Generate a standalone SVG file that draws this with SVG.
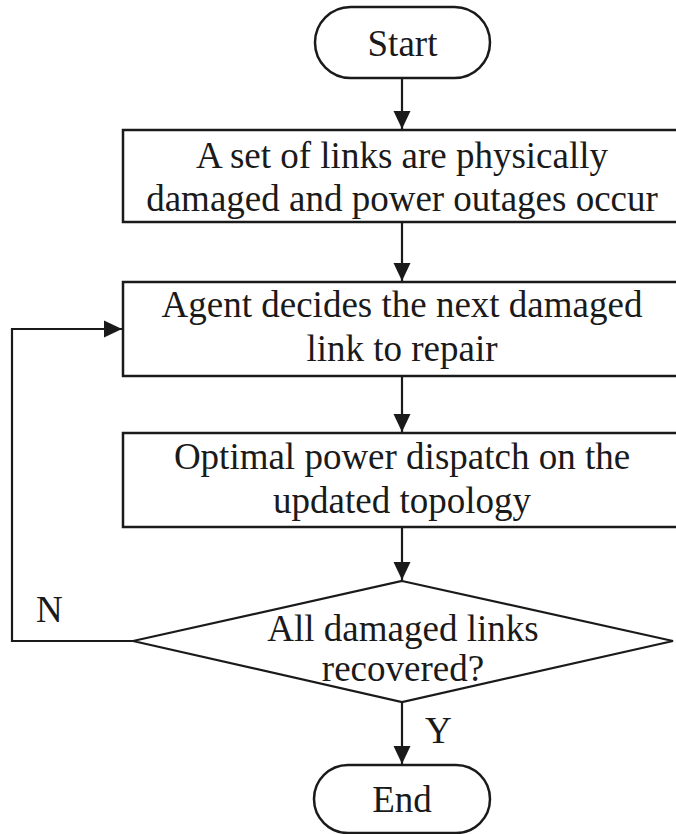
<svg xmlns="http://www.w3.org/2000/svg" width="676" height="834" viewBox="0 0 676 834">
  <style>
    .shape { fill: #ffffff; stroke: #1a1a1a; stroke-width: 2.5; }
    .diamond { fill: #ffffff; stroke: #1a1a1a; stroke-width: 2.2; }
    .label { font-family: "Liberation Serif", "Times New Roman", serif; font-size: 37px; fill: #1a1a1a; text-anchor: middle; }
    .tag { font-family: "Liberation Serif", "Times New Roman", serif; font-size: 37px; fill: #1a1a1a; }
    .wire { fill: none; stroke: #1a1a1a; stroke-width: 2.2; }
  </style>
  <defs>
    <marker id="arrow" markerUnits="userSpaceOnUse" markerWidth="18" markerHeight="18" viewBox="0 0 18 18" refX="18" refY="9" orient="auto">
      <path d="M0,0.5 L18,9 L0,17.5 Z" fill="#1a1a1a"/>
    </marker>
  </defs>
  <rect width="676" height="834" fill="#ffffff"/>

  <g id="connectors">
    <line class="wire" x1="402" y1="78" x2="402" y2="129" marker-end="url(#arrow)"/>
    <line class="wire" x1="402" y1="222" x2="402" y2="281" marker-end="url(#arrow)"/>
    <line class="wire" x1="402" y1="376" x2="402" y2="432" marker-end="url(#arrow)"/>
    <line class="wire" x1="402" y1="527" x2="402" y2="580" marker-end="url(#arrow)"/>
    <line class="wire" x1="402" y1="702" x2="402" y2="764" marker-end="url(#arrow)"/>
    <polyline class="wire" points="133,641 12,641 12,329 122,329" marker-end="url(#arrow)"/>
    <text class="tag" x="36" y="622">N</text>
    <text class="tag" x="425" y="743">Y</text>
  </g>

  <g id="start">
    <rect class="shape" x="315" y="7" width="175" height="71" rx="35.5" ry="35.5"/>
    <text class="label" x="402.5" y="56">Start</text>
  </g>

  <g id="damage">
    <rect class="shape" x="123" y="130" width="558" height="92"/>
    <text class="label" x="402" y="168">A set of links are physically</text>
    <text class="label" x="402" y="211">damaged and power outages occur</text>
  </g>

  <g id="decide">
    <rect class="shape" x="123" y="282" width="558" height="94"/>
    <text class="label" x="402" y="317">Agent decides the next damaged</text>
    <text class="label" x="402" y="361">link to repair</text>
  </g>

  <g id="dispatch">
    <rect class="shape" x="123" y="433" width="558" height="94"/>
    <text class="label" x="402" y="469">Optimal power dispatch on the</text>
    <text class="label" x="402" y="513">updated topology</text>
  </g>

  <g id="check">
    <polygon class="diamond" points="402,581 673,641 402,702 133,641"/>
    <text class="label" x="403" y="641">All damaged links</text>
    <text class="label" x="403" y="681">recovered?</text>
  </g>

  <g id="end">
    <rect class="shape" x="314" y="765" width="176" height="68" rx="34" ry="34"/>
    <text class="label" x="402" y="812">End</text>
  </g>
</svg>
